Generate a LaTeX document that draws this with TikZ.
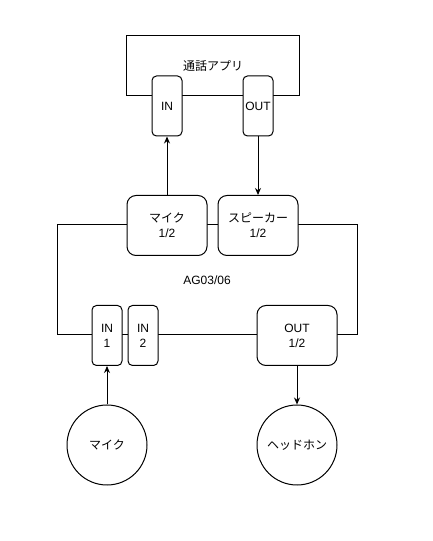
\documentclass[tikz,border=0pt]{standalone}
\usepackage{fontspec}
\setmainfont{Liberation Sans}
\newfontfamily\jp{Noto Sans CJK JP}
\usetikzlibrary{arrows.meta,positioning}

\begin{document}
\begin{tikzpicture}[x=1pt,y=1pt,>={Stealth[length=7pt,width=6pt]},line width=1pt,
  font=\fontsize{12}{15}\selectfont,
  portbox/.style={draw,rounded corners=4.5pt,fill=white,minimum width=30pt,minimum height=60pt,inner sep=0pt,align=center},
  unitbox/.style={draw,rounded corners=9pt,fill=white,minimum width=80pt,minimum height=60pt,inner sep=0pt,align=center},
  devcircle/.style={draw,circle,fill=white,minimum size=80pt,inner sep=0pt}]
\useasboundingbox (0,0) rectangle (433,541);
% app side
\node[draw,minimum width=173pt,minimum height=60pt] (app) at (213,475.5) {\jp 通話アプリ};
\node[portbox] (appin) at (167,435) {IN};
\node[portbox] (appout) at (258,435) {OUT};
% interface
\node[draw,minimum width=300pt,minimum height=110pt] (ag) at (207,261) {AG03/06};
\node[unitbox] (mic) at (167,315.5) {{\jp マイク}\\1/2};
\node[unitbox,right=10pt of mic] (spk) {{\jp スピーカー}\\1/2};
\node[portbox] (in1) at (107,205.5) {IN\\1};
\node[portbox,right=5pt of in1] (in2) {IN\\2};
\node[unitbox] (out) at (297,205.5) {OUT\\1/2};
% devices
\node[devcircle] (micc) at (107,96) {\jp マイク};
\node[devcircle] (hpc) at (297,96) {\jp ヘッドホン};
\draw[->] (mic) -- (appin);
\draw[->] (appout) -- (appout |- spk.north);
\draw[->] (micc) -- (in1);
\draw[->] (out) -- (hpc);
\end{tikzpicture}
\end{document}
